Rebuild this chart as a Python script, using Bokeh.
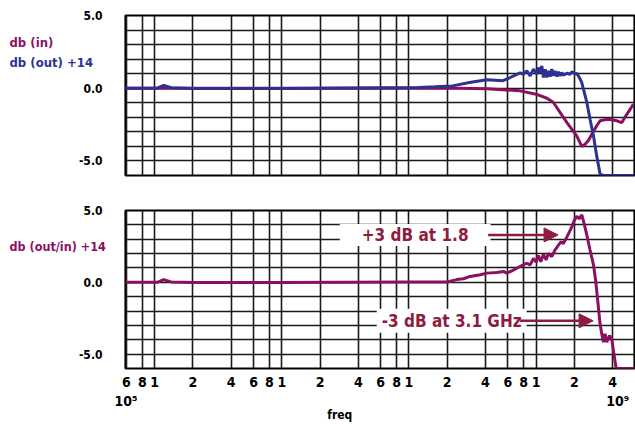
from bokeh.plotting import figure
from bokeh.layouts import column
from bokeh.models import FixedTicker, Label, Arrow, NormalHead, Range1d, LogAxis
from bokeh.embed import file_html
from bokeh.resources import INLINE

FONT = "DejaVu Sans Condensed"
MAGENTA = "#8c1060"
BLUE = "#2d3192"
ANNOT = "#8e1c3e"
GRID = "#1a1a1a"

# ---------------- data ----------------
freq_in = [5.9e5, 1.0e6, 1.0e7, 1.0e8, 2.5e8, 4.1e8, 7.5e8, 1.0e9, 1.22e9, 1.37e9,
           1.75e9, 2.09e9, 2.29e9, 2.43e9, 2.58e9, 3.0e9, 3.19e9, 3.6e9, 3.94e9,
           4.32e9, 4.73e9, 5.0e9, 5.83e9]
db_in = [0.0, 0.0, 0.0, 0.0, -0.01, -0.03, -0.18, -0.41, -0.69, -0.98,
         -2.36, -3.27, -4.0, -3.85, -3.6, -2.58, -2.24, -2.13, -2.17,
         -2.24, -2.36, -2.0, -1.1]

freq_out = [5.9e5, 1.05e6, 1.18e6, 1.35e6, 2.0e6, 1.0e7, 1.2e8, 1.6e8, 2.2e8, 3.0e8,
            4.1e8, 5.5e8, 6.2e8, 7.5e8, 7.96e8, 8.47e8, 8.99e8, 9.55e8, 1.014e9, 1.044e9,
            1.077e9, 1.111e9, 1.143e9, 1.18e9, 1.216e9, 1.251e9, 1.29e9, 1.33e9, 1.37e9, 1.41e9,
            1.46e9, 1.50e9, 1.55e9, 1.59e9, 1.64e9, 1.75e9, 1.85e9, 1.91e9, 1.97e9, 2.03e9,
            2.09e9, 2.19e9, 2.29e9, 2.36e9, 2.51e9, 2.66e9, 2.83e9, 3.0e9, 3.19e9, 3.39e9, 6.0e9]
db_out = [0.0, 0.0, 0.2, 0.03, -0.02, -0.02, 0.05, 0.1, 0.16, 0.39,
          0.58, 0.52, 0.72, 1.05, 0.96, 1.19, 0.85, 1.31, 0.96, 1.42,
          1.08, 1.54, 0.74, 1.31, 0.74, 1.19, 0.80, 1.31, 0.85, 1.19,
          0.80, 1.13, 0.85, 1.08, 0.89, 1.03, 0.96, 1.13, 1.08, 0.96,
          1.03, 0.74, 0.39, -0.07, -0.98, -2.13, -3.27, -4.65, -5.9, -6.0, -6.0]

freq_ratio = [5.9e5, 1.05e6, 1.18e6, 1.35e6, 2.0e6, 1.0e7, 1.0e8, 2.0e8, 2.38e8, 2.69e8,
              3.03e8, 3.64e8, 4.10e8, 4.92e8, 5.54e8, 5.89e8, 6.45e8, 7.06e8, 7.73e8, 8.47e8,
              8.99e8, 9.55e8, 1.002e9, 1.044e9, 1.091e9, 1.143e9, 1.20e9, 1.251e9, 1.33e9, 1.41e9,
              1.50e9, 1.57e9, 1.64e9, 1.75e9, 1.83e9, 1.91e9, 2.00e9, 2.09e9, 2.18e9, 2.29e9,
              2.39e9, 2.51e9, 2.66e9, 2.83e9, 2.95e9, 3.06e9, 3.19e9, 3.29e9, 3.39e9, 3.49e9,
              3.60e9, 3.78e9, 3.94e9, 4.06e9, 4.27e9, 6.0e9]
db_ratio = [0.0, 0.0, 0.18, 0.03, -0.01, -0.01, 0.02, 0.02, 0.19, 0.25,
            0.41, 0.53, 0.64, 0.69, 0.76, 0.64, 0.80, 0.98, 1.17, 1.33,
            1.21, 1.67, 1.40, 1.86, 1.44, 1.95, 1.56, 2.01, 1.79, 2.25,
            2.59, 2.82, 2.70, 3.16, 3.51, 3.85, 4.31, 4.60, 4.42, 4.69,
            4.08, 3.28, 2.25, 1.22, 0.07, -1.31, -2.91, -3.59, -4.17, -3.59,
            -4.17, -3.71, -3.94, -4.74, -6.0, -6.0]

x_ticks = [6e5, 8e5, 1e6, 2e6, 4e6, 6e6, 8e6, 1e7, 2e7, 4e7, 6e7, 8e7,
           1e8, 2e8, 4e8, 6e8, 8e8, 1e9, 2e9, 4e9]
x_tick_labels = ["6", "8", "1", "2", "4", "6", "8", "1", "2", "4", "6", "8",
                 "1", "2", "4", "6", "8", "1", "2", "4"]
decade_ticks = [5.95e5, 4.4e9]
decade_labels = ["10\u2075", "10\u2079"]
freq_label_at = [2.86e7]
freq_label = ["freq"]
y_ticks = [-5, 0, 5]
y_tick_labels = ["-5.0", "0.0", "5.0"]
y_grid = [-5, -4, -3, -2, -1, 0, 1, 2, 3, 4]
x_start, x_end = 5.9e5, 5.95e9
y_start, y_end = -6, 5

annot1 = dict(text="+3 dB at 1.8", x=1.12e8, y=3.3, ax0=4.2e8, ax1=1.49e9)
annot2 = dict(text="-3 dB at 3.1 GHz", x=2.17e8, y=-2.68, ax0=7.5e8, ax1=2.81e9)

W = 635
LEFT = 125
FRAME_H = 160


def style_axis(ax, size, standoff):
    ax.axis_line_color = None
    ax.major_tick_line_color = None
    ax.minor_tick_line_color = None
    ax.major_tick_out = 0
    ax.major_tick_in = 0
    ax.major_label_standoff = standoff
    ax.major_label_text_font = FONT
    ax.major_label_text_font_style = "bold"
    ax.major_label_text_font_size = size
    ax.major_label_text_color = "black"


def make_plot(top, bottom, show_x):
    p = figure(width=W, height=top + FRAME_H + bottom, x_axis_type="log",
               x_range=Range1d(x_start, x_end), y_range=Range1d(y_start, y_end),
               output_backend="svg", toolbar_location=None,
               min_border_left=LEFT, min_border_right=1,
               min_border_top=top, min_border_bottom=bottom,
               x_axis_location="below" if show_x else None)
    p.outline_line_color = "black"
    p.outline_line_width = 2.2
    p.background_fill_color = "white"
    p.border_fill_color = "white"
    p.xgrid.ticker = FixedTicker(ticks=x_ticks)
    p.ygrid.ticker = FixedTicker(ticks=y_grid)
    for g in (p.xgrid[0], p.ygrid[0]):
        g.grid_line_color = GRID
        g.grid_line_width = 1.6
        g.grid_line_alpha = 1.0
    ya = p.yaxis[0]
    ya.ticker = FixedTicker(ticks=y_ticks)
    ya.major_label_overrides = {t: l for t, l in zip(y_ticks, y_tick_labels)}
    style_axis(ya, "12px", 23)
    if show_x:
        xa = p.xaxis[0]
        xa.ticker = FixedTicker(ticks=x_ticks)
        xa.major_label_overrides = {t: l for t, l in zip(x_ticks, x_tick_labels)}
        style_axis(xa, "14px", 8)
        dec = LogAxis(ticker=FixedTicker(ticks=decade_ticks),
                      major_label_overrides={t: l for t, l in zip(decade_ticks, decade_labels)})
        style_axis(dec, "14px", 3)
        p.add_layout(dec, "below")
        fq = LogAxis(ticker=FixedTicker(ticks=freq_label_at),
                     major_label_overrides={t: l for t, l in zip(freq_label_at, freq_label)})
        style_axis(fq, "12px", -4)
        p.add_layout(fq, "below")
    return p


def side_label(p, place, text, y, color, size="13px"):
    # a label that lives in a side panel is not clipped to the frame
    p.add_layout(Label(x=9 - LEFT, y=y, x_units="screen", y_units="screen", text=text,
                       text_color=color, text_font=FONT, text_font_style="bold",
                       text_font_size=size, text_baseline="middle", text_align="left"),
                 place)


# ---------------- top plot ----------------
top = make_plot(15, 17, False)
top.line(freq_in, db_in, line_color=MAGENTA, line_width=3)
top.line(freq_out, db_out, line_color=BLUE, line_width=3)
side_label(top, "above", "db (in)", -27, MAGENTA)
side_label(top, "below", "db (out) +14", 128, BLUE)

# ---------------- bottom plot ----------------
bot = make_plot(18, 54, True)
bot.line(freq_ratio, db_ratio, line_color=MAGENTA, line_width=3)
side_label(bot, "above", "db (out/in) +14", -36, MAGENTA, size="12.5px")

for a, pad in ((annot1, (22, 1)), (annot2, (5, 2))):
    bot.add_layout(Label(x=a["x"], y=a["y"], text=a["text"], text_color=ANNOT,
                         text_font=FONT, text_font_style="bold", text_font_size="17px",
                         text_align="center", text_baseline="middle",
                         background_fill_color="white", padding=pad))
    bot.add_layout(Arrow(end=NormalHead(size=14, fill_color=ANNOT, line_color=ANNOT),
                         x_start=a["ax0"], y_start=a["y"], x_end=a["ax1"], y_end=a["y"],
                         line_color=ANNOT, line_width=2.5))

layout = column(top, bot, spacing=0)
open("out.html", "w").write(file_html(layout, INLINE))
